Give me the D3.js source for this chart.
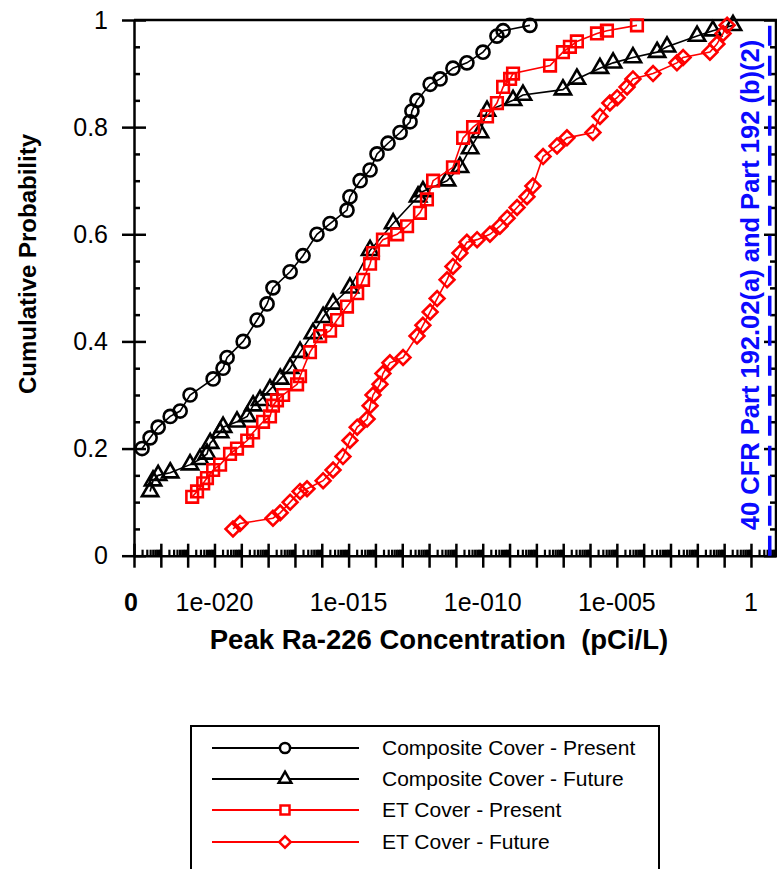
<!DOCTYPE html>
<html>
<head>
<meta charset="utf-8">
<script src="https://cdn.jsdelivr.net/npm/d3@7"></script>
<style>
body { margin: 0; overflow: hidden; background: #fff; }
text { font-family: Arial, "Liberation Sans", sans-serif; }
</style>
</head>
<body>
<script>
var width = 777,
    height = 869;

// each point: [log10 of peak Ra-226 concentration (pCi/L), cumulative probability]
var compositePresent = [[-22.70,0.20],[-22.40,0.22],[-22.10,0.24],[-21.65,0.26],[-21.28,0.27],[-20.91,0.30],
    [-20.05,0.33],[-19.68,0.35],[-19.53,0.37],[-18.93,0.40],[-18.41,0.44],[-18.04,0.47],[-17.82,0.50],
    [-17.18,0.53],[-16.70,0.56],[-16.18,0.60],[-15.69,0.62],[-15.06,0.645],[-14.95,0.67],[-14.57,0.70],
    [-14.20,0.72],[-13.94,0.75],[-13.53,0.77],[-13.08,0.79],[-12.71,0.81],[-12.64,0.83],[-12.45,0.85],
    [-11.96,0.88],[-11.59,0.89],[-11.11,0.91],[-10.59,0.92],[-9.99,0.94],[-9.47,0.97],[-9.24,0.98],[-8.24,0.99]];

var compositeFuture = [[-22.40,0.12],[-22.29,0.14],[-22.10,0.15],[-21.65,0.155],[-20.91,0.17],[-20.54,0.18],
    [-20.28,0.19],[-20.16,0.21],[-19.79,0.23],[-19.68,0.24],[-19.16,0.25],[-18.78,0.26],[-18.56,0.28],
    [-18.30,0.29],[-17.93,0.31],[-17.55,0.33],[-17.18,0.35],[-16.81,0.38],[-16.33,0.415],[-15.95,0.445],
    [-15.58,0.47],[-14.95,0.50],[-14.20,0.57],[-13.34,0.62],[-12.41,0.67],[-12.23,0.68],[-11.33,0.70],
    [-10.85,0.725],[-10.47,0.76],[-10.10,0.79],[-9.84,0.83],[-8.87,0.85],[-8.50,0.86],[-7.01,0.87],
    [-6.49,0.89],[-5.63,0.91],[-5.14,0.92],[-4.40,0.93],[-3.50,0.94],[-3.13,0.95],[-2.01,0.97],
    [-1.42,0.98],[-0.67,0.99]];

var etPresent = [[-20.83,0.11],[-20.65,0.12],[-20.42,0.135],[-20.28,0.145],[-20.05,0.16],[-19.79,0.17],
    [-19.42,0.19],[-19.16,0.20],[-18.78,0.215],[-18.56,0.23],[-18.19,0.25],[-17.93,0.26],[-17.82,0.28],
    [-17.67,0.29],[-17.44,0.30],[-16.92,0.32],[-16.81,0.335],[-16.44,0.38],[-16.06,0.41],[-15.69,0.42],
    [-15.43,0.44],[-15.06,0.465],[-14.68,0.49],[-14.46,0.515],[-14.20,0.545],[-14.09,0.565],[-13.72,0.59],
    [-13.19,0.60],[-12.82,0.615],[-12.34,0.64],[-12.08,0.665],[-11.85,0.70],[-11.11,0.725],[-10.73,0.78],
    [-10.36,0.80],[-9.84,0.82],[-9.47,0.845],[-9.24,0.875],[-8.98,0.89],[-8.87,0.90],[-7.49,0.915],
    [-7.01,0.94],[-6.75,0.95],[-6.49,0.96],[-5.74,0.975],[-5.37,0.98],[-4.25,0.99]];

var etFuture = [[-19.31,0.05],[-19.05,0.06],[-17.82,0.07],[-17.55,0.08],[-17.18,0.10],[-16.81,0.12],
    [-16.55,0.125],[-15.95,0.14],[-15.58,0.16],[-15.21,0.185],[-14.95,0.215],[-14.68,0.24],[-14.31,0.255],
    [-14.20,0.28],[-14.09,0.30],[-13.83,0.32],[-13.72,0.34],[-13.46,0.36],[-12.97,0.37],[-12.45,0.41],
    [-12.23,0.43],[-11.96,0.455],[-11.70,0.48],[-11.33,0.515],[-11.11,0.54],[-10.85,0.565],[-10.59,0.585],
    [-10.21,0.59],[-9.73,0.60],[-9.36,0.615],[-9.09,0.63],[-8.72,0.65],[-8.35,0.67],[-8.13,0.69],
    [-7.75,0.745],[-7.23,0.765],[-6.86,0.78],[-5.89,0.79],[-5.63,0.82],[-5.26,0.845],[-4.99,0.855],
    [-4.62,0.875],[-4.40,0.89],[-3.65,0.90],[-2.76,0.92],[-2.53,0.93],[-1.53,0.94],[-1.27,0.955],
    [-1.04,0.975],[-0.89,0.99]];

var seriesNames = ["Composite Cover - Present", "Composite Cover - Future", "ET Cover - Present", "ET Cover - Future"];
var seriesData = [compositePresent, compositeFuture, etPresent, etFuture];
var seriesColors = ["black", "black", "red", "red"];
var seriesSymbols = ["circle", "triangle", "square", "diamond"];

var xTickExps = [-20, -15, -10, -5, 0];
var xTickLabels = ["1e-020", "1e-015", "1e-010", "1e-005", "1"];
var yTicks = [0, 0.2, 0.4, 0.6, 0.8, 1];
var yTickLabels = ["0", "0.2", "0.4", "0.6", "0.8", "1"];
var limitValue = 5;
var limitLabel = "40 CFR Part 192.02(a) and Part 192 (b)(2)";

var x = d3.scaleLog()
    .domain([1e-23, 10])
    .range([134, 777.8]);

var y = d3.scaleLinear()
    .domain([0, 1])
    .range([555.7, 20]);

var svg = d3.select("body").append("svg")
    .attr("width", width)
    .attr("height", height);

// log ticks, majors at every decade, minors at 2..9
var majorX = d3.range(-23, 2).map(function(k) { return Math.pow(10, k); });
var minorX = [];
d3.range(-23, 1).forEach(function(k) {
    for (var m = 2; m <= 9; m++) minorX.push(m * Math.pow(10, k));
});
var minorY = d3.range(1, 20).map(function(i) { return i * 0.05; })
    .filter(function(v) { return Math.abs(v * 5 - Math.round(v * 5)) > 1e-6; });

// frame (top and right)
svg.append("line")
    .attr("x1", x.range()[0]).attr("x2", x.range()[1])
    .attr("y1", y(1)).attr("y2", y(1))
    .attr("stroke", "black").attr("stroke-width", 2.5);
svg.append("line")
    .attr("x1", 776).attr("x2", 776)
    .attr("y1", y(0)).attr("y2", y(1))
    .attr("stroke", "black").attr("stroke-width", 2.5);

// bottom axis
var xMajor = svg.append("g")
    .attr("transform", "translate(0," + y(0) + ")")
    .call(d3.axisBottom(x).tickValues(majorX).tickSize(12).tickSizeOuter(0).tickFormat(""));
xMajor.selectAll(".tick line").attr("y1", -12).attr("y2", 12);

var xMinor = svg.append("g")
    .attr("transform", "translate(0," + y(0) + ")")
    .call(d3.axisTop(x).tickValues(minorX).tickSize(6).tickSizeOuter(0).tickFormat(""));
xMinor.select(".domain").remove();

// left axis
var yAxis = svg.append("g")
    .attr("transform", "translate(" + x.range()[0] + ",0)")
    .call(d3.axisLeft(y).tickValues(yTicks).tickSize(12).tickSizeOuter(0).tickPadding(14)
        .tickFormat(function(d, i) { return yTickLabels[i]; }));
yAxis.selectAll(".tick line").attr("x1", -12).attr("x2", 12);
yAxis.selectAll(".tick text").attr("font-size", "25px").attr("fill", "black")
    .style("font-family", "Arial, 'Liberation Sans', sans-serif");

svg.append("g")
    .attr("transform", "translate(" + x.range()[0] + ",0)")
    .call(d3.axisRight(y).tickValues(minorY).tickSize(6).tickSizeOuter(0).tickFormat(""))
    .select(".domain").remove();

// right axis ticks (inward)
var yRight = svg.append("g")
    .attr("transform", "translate(776,0)");
yRight.call(d3.axisLeft(y).tickValues(yTicks).tickSize(12).tickSizeOuter(0).tickFormat(""));
yRight.select(".domain").remove();
var yRightMinor = svg.append("g")
    .attr("transform", "translate(776,0)");
yRightMinor.call(d3.axisLeft(y).tickValues(minorY).tickSize(6).tickSizeOuter(0).tickFormat(""));
yRightMinor.select(".domain").remove();

svg.selectAll(".domain").attr("stroke-width", 2.5);
svg.selectAll(".tick line").attr("stroke-width", 2.5);
xMinor.selectAll(".tick line").attr("stroke-width", 2.2);

// x tick labels
svg.append("g").selectAll("text")
    .data(xTickExps)
    .enter().append("text")
    .attr("x", function(d) { return x(Math.pow(10, d)); })
    .attr("y", 611)
    .attr("text-anchor", "middle")
    .attr("font-size", "25px")
    .text(function(d, i) { return xTickLabels[i]; });
svg.append("text")
    .attr("x", x.range()[0] - 3)
    .attr("y", 611)
    .attr("text-anchor", "middle")
    .attr("font-size", "25px")
    .attr("font-weight", "bold")
    .text("0");

// axis titles
svg.append("text")
    .attr("x", 439)
    .attr("y", 649)
    .attr("text-anchor", "middle")
    .attr("font-size", "27.5px")
    .attr("font-weight", "bold")
    .style("white-space", "pre")
    .text("Peak Ra-226 Concentration  (pCi/L)");
svg.append("text")
    .attr("transform", "translate(36,264) rotate(-90)")
    .attr("text-anchor", "middle")
    .attr("font-size", "24px")
    .attr("font-weight", "bold")
    .text("Cumulative Probability");

// regulatory limit
svg.append("line")
    .attr("x1", x(limitValue)).attr("x2", x(limitValue))
    .attr("y1", y(0)).attr("y2", y(1))
    .attr("stroke", "#0a0aff")
    .attr("stroke-width", 3.5)
    .attr("stroke-dasharray", "20,10");
svg.append("text")
    .attr("transform", "translate(759,285) rotate(-90)")
    .attr("text-anchor", "middle")
    .attr("font-size", "25.5px")
    .attr("font-weight", "bold")
    .attr("fill", "#0a0aff")
    .text(limitLabel);

// symbols
function symbolPath(name, scale) {
    var s = scale || 1;
    if (name === "circle") return d3.symbol().type(d3.symbolCircle).size(135 * s)();
    if (name === "triangle") return d3.symbol().type(d3.symbolTriangle).size(115 * s)();
    if (name === "square") return d3.symbol().type(d3.symbolSquare).size(135 * s)();
    return d3.symbol().type(d3.symbolSquare).size(110 * s)();
}
function symbolRotate(name) {
    return name === "diamond" ? " rotate(45)" : "";
}

var line = d3.line()
    .x(function(d) { return x(Math.pow(10, d[0])); })
    .y(function(d) { return y(d[1]); });

seriesData.forEach(function(data, i) {
    var g = svg.append("g").attr("class", "series");
    g.append("path")
        .datum(data)
        .attr("d", line)
        .attr("fill", "none")
        .attr("stroke", seriesColors[i])
        .attr("stroke-width", 1.6);
    g.selectAll(".marker")
        .data(data)
        .enter().append("path")
        .attr("class", "marker")
        .attr("d", symbolPath(seriesSymbols[i]))
        .attr("transform", function(d) {
            return "translate(" + x(Math.pow(10, d[0])) + "," + y(d[1]) + ")" + symbolRotate(seriesSymbols[i]);
        })
        .attr("fill", "none")
        .attr("stroke", seriesColors[i])
        .attr("stroke-width", 2.6);
});

// legend
var legend = svg.append("g").attr("class", "legend");
legend.append("rect")
    .attr("x", 191).attr("y", 726)
    .attr("width", 468).attr("height", 200)
    .attr("fill", "white")
    .attr("stroke", "black")
    .attr("stroke-width", 2);
var rows = [748, 779, 810, 842];
seriesNames.forEach(function(name, i) {
    var r = legend.append("g").attr("transform", "translate(0," + rows[i] + ")");
    r.append("line")
        .attr("x1", 212).attr("x2", 359)
        .attr("y1", 0).attr("y2", 0)
        .attr("stroke", seriesColors[i])
        .attr("stroke-width", 2);
    r.append("path")
        .attr("d", symbolPath(seriesSymbols[i], 0.6))
        .attr("transform", "translate(285,0)" + symbolRotate(seriesSymbols[i]))
        .attr("fill", "white")
        .attr("stroke", seriesColors[i])
        .attr("stroke-width", 2.5);
    r.append("text")
        .attr("x", 382)
        .attr("y", 0)
        .attr("dy", "0.35em")
        .attr("font-size", "21px")
        .text(name);
});
</script>
</body>
</html>
